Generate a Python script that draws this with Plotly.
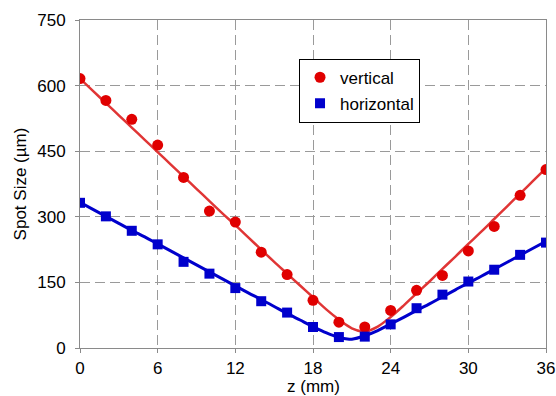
import plotly.graph_objects as go

# Measured points
z_pts = [0, 2, 4, 6, 8, 10, 12, 14, 16, 18, 20, 22, 24, 26, 28, 30, 32, 34, 36]
vertical = [616, 566, 523, 464, 390, 313, 288, 219, 168, 109, 59, 48, 86, 132, 166, 222, 278, 349, 408]
horizontal = [332, 301, 268, 237, 197, 170, 137, 107, 81, 48, 25, 26, 54, 91, 122, 152, 179, 213, 241]

# Fit curves
z_fit_v = [0, 1, 2, 3, 4, 5, 6, 7, 8, 9, 10, 11, 12, 13, 14, 15, 16, 17, 18, 19, 20, 21, 21.9,
           22, 23, 24, 25, 26, 27, 28, 29, 30, 31, 32, 33, 34, 35, 36]
fit_v = [616, 588, 560, 532, 504, 476, 448, 420, 392, 364, 336, 308, 281, 253, 225, 197, 170, 143, 116, 89, 65, 45, 37,
         37, 49, 71, 97, 125, 152, 181, 209, 238, 266, 295, 324, 353, 382, 411]
z_fit_h = [0, 1, 2, 3, 4, 5, 6, 7, 8, 9, 10, 11, 12, 13, 14, 15, 16, 17, 18, 19, 20, 20.8,
           21, 22, 23, 24, 25, 26, 27, 28, 29, 30, 31, 32, 33, 34, 35, 36]
fit_h = [333, 317, 301, 285, 269, 254, 238, 222, 206, 190, 174, 158, 142, 126, 111, 95, 79, 64, 49, 35, 24, 20,
         20, 28, 40, 55, 70, 86, 101, 117, 133, 149, 164, 180, 196, 212, 228, 244]

x_ticks = [0, 6, 12, 18, 24, 30, 36]
y_ticks = [0, 150, 300, 450, 600, 750]
x_title = "z (mm)"
y_title = "Spot Size (µm)"

RED_M = "#e00000"
RED_L = "#e03535"
BLUE = "#0000cc"
FONT = "Liberation Sans, Arial, sans-serif"
FS = 17

fig = go.Figure()
fig.add_trace(go.Scatter(x=z_fit_v, y=fit_v, mode="lines", line=dict(color=RED_L, width=2.5, shape="spline"),
                         showlegend=False, hoverinfo="skip"))
fig.add_trace(go.Scatter(x=z_fit_h, y=fit_h, mode="lines", line=dict(color=BLUE, width=3, shape="spline"),
                         showlegend=False, hoverinfo="skip"))
fig.add_trace(go.Scatter(x=z_pts, y=vertical, mode="markers", name="vertical", legendgroup="v",
                         marker=dict(symbol="circle", size=11, color=RED_M)))
fig.add_trace(go.Scatter(x=z_pts, y=horizontal, mode="markers", name="horizontal", legendgroup="h",
                         marker=dict(symbol="square", size=10, color=BLUE)))

axis_common = dict(
    showline=True, linecolor="#8a8a8a", linewidth=1, mirror=True,
    showgrid=True, gridcolor="#9a9a9a", gridwidth=1, griddash="10px,5px",
    ticks="outside", ticklen=4, tickcolor="#8a8a8a", automargin=False,
    zeroline=False, tickfont=dict(family=FONT, size=FS, color="black"),
)

fig.update_layout(
    width=556, height=396,
    margin=dict(l=80, r=10, t=20, b=48),
    paper_bgcolor="white", plot_bgcolor="white",
    font=dict(family=FONT, size=FS, color="black"),
    xaxis=dict(range=[0, 36], tickvals=x_ticks, ticklabelstandoff=1, **axis_common),
    yaxis=dict(range=[0, 750], tickvals=y_ticks, ticklabelstandoff=6,
               title=dict(text=y_title, font=dict(family=FONT, size=FS), standoff=6), **axis_common),
    legend=dict(x=0.47, y=0.882, xanchor="left", yanchor="top",
                bgcolor="white", bordercolor="black", borderwidth=1,
                font=dict(family=FONT, size=FS), tracegroupgap=1, itemwidth=30),
    annotations=[dict(text=x_title, xref="paper", yref="paper", x=0.5, y=-0.116,
                      xanchor="center", yanchor="middle", showarrow=False, borderpad=0,
                      font=dict(family=FONT, size=FS, color="black"))],
)

fig.write_html("out.html")
